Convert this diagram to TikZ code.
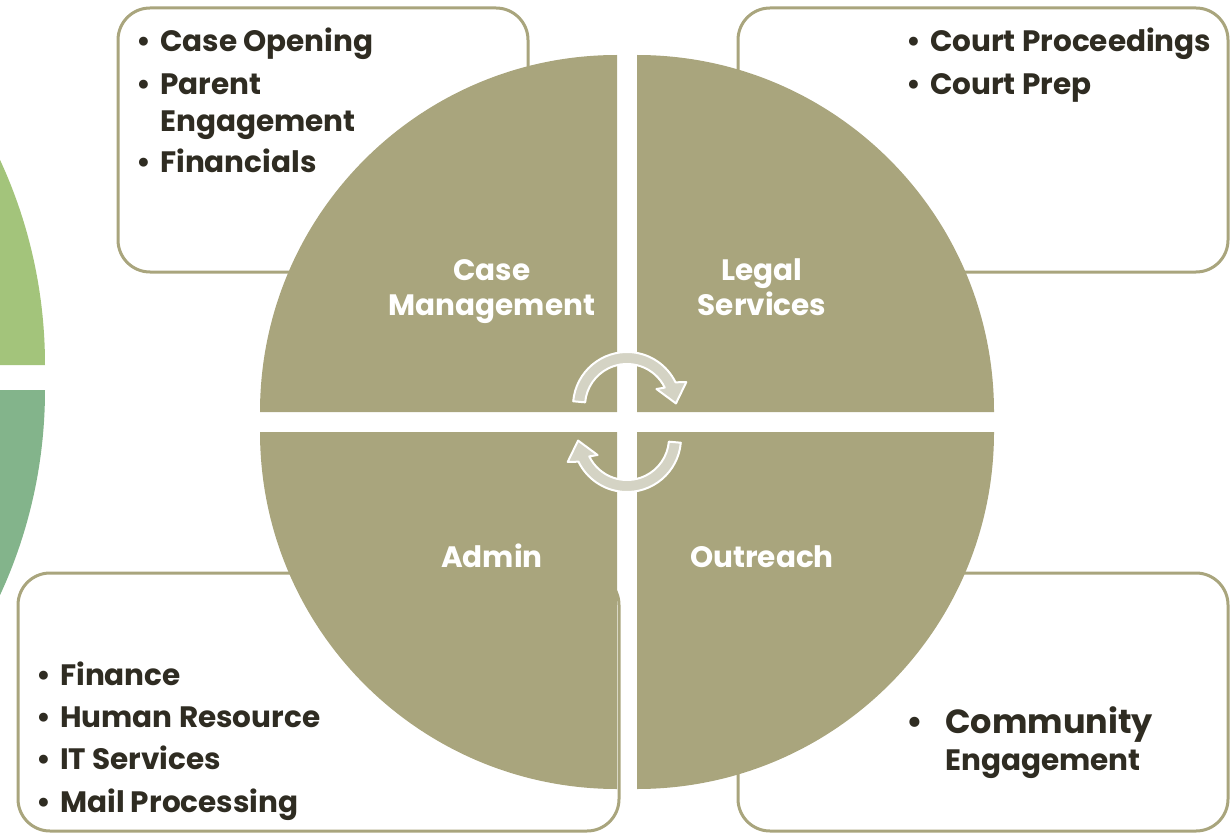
\documentclass[tikz,border=0pt]{standalone}
\usepackage{fontspec}
\setmainfont{Poppins}

\definecolor{quadfill}{HTML}{A9A57D}
\definecolor{boxline}{HTML}{A9A57D}
\definecolor{inkdark}{HTML}{2F2C22}
\definecolor{greenlight}{HTML}{A3C47B}
\definecolor{greendark}{HTML}{83B48B}
\definecolor{arrowfill}{HTML}{D4D3C4}

\newcommand{\bul}{\llap{\textbullet\hspace{9pt}}}

\tikzset{
  quad/.style={fill=quadfill},
  listbox/.style={draw=boxline, line width=3pt, rounded corners=32pt},
  listtext/.style={font=\fontsize{29.5}{36}\selectfont\bfseries, text=inkdark, anchor=base west, inner sep=0pt},
  quadlabel/.style={font=\fontsize{29.5}{36}\selectfont\bfseries, text=white, anchor=base, inner sep=0pt},
  turnfill/.style={fill=arrowfill, draw=white, line width=2pt, line join=round},
  pics/turnarrow/.style={code={
    \filldraw[turnfill] (-175:54) arc[start angle=-175, end angle=-26, radius=54]
      -- (-22:64) -- (-3:49) -- (-30:34) -- (-26:42)
      arc[start angle=-26, end angle=-175, radius=42] -- cycle;
  }}
}

\begin{document}
\begin{tikzpicture}[x=1pt,y=-1pt]
\useasboundingbox (0,0) rectangle (1230,834);
\clip (0,0) rectangle (1230,834);

% neighbouring wheel, cut by the page edge
\fill[greenlight] (-444,365) -- ++(489,0) arc[start angle=0, end angle=-180, radius=489] -- cycle;
\fill[greendark] (-444,390) -- ++(489,0) arc[start angle=0, end angle=180, radius=489] -- cycle;

% boxes behind the wheel
\draw[listbox] (118,8) rectangle (528,272);
\draw[listbox] (738,8) rectangle (1228,272);
\draw[listbox] (18,573) rectangle (619,831);
\draw[listbox] (738,573) rectangle (1228,831);

% the four quarters
\fill[quad] (617,412) -- ++(-357,0) arc[start angle=180, end angle=270, radius=357] -- cycle;
\fill[quad] (637,412) -- ++(0,-357) arc[start angle=270, end angle=360, radius=357] -- cycle;
\fill[quad] (637,432) -- ++(357,0) arc[start angle=0, end angle=90, radius=357] -- cycle;
\fill[quad] (617,432) -- ++(0,357) arc[start angle=90, end angle=180, radius=357] -- cycle;

\node[quadlabel] (case) at (492,280) {Case};
\node[quadlabel] (mgmt) at (492,315) {Management};
\node[quadlabel] (legal) at (762,280) {Legal};
\node[quadlabel] (services) at (762,315) {Services};
\node[quadlabel] (admin) at (492,567) {Admin};
\node[quadlabel] (outreach) at (762,567) {Outreach};

% turning arrows in the middle
\pic at (627,406) {turnarrow};
\pic[rotate=180] at (627,438) {turnarrow};

% case management list
\node[listtext] (caseopen) at (160,52) {\bul Case Opening};
\node[listtext] (parent) at (160,95) {\bul Parent};
\node[listtext] (parenteng) at (160,132) {Engagement};
\node[listtext] (financials) at (160,173) {\bul Financials};

% legal services list
\node[listtext] (courtproc) at (930,52) {\bul Court Proceedings};
\node[listtext] (courtprep) at (930,95) {\bul Court Prep};

% admin list
\node[listtext] (finance) at (60,685) {\bul Finance};
\node[listtext] (humanres) at (60,727) {\bul Human Resource};
\node[listtext] (itserv) at (60,769) {\bul IT Services};
\node[listtext] (mail) at (60,812) {\bul Mail Processing};

% outreach list
\node[listtext, font=\fontsize{33.5}{40}\selectfont\bfseries] (community) at (945,733) {\llap{\textbullet\hspace{22pt}}Community};
\node[listtext] (communityeng) at (945,770) {Engagement};
\end{tikzpicture}
\end{document}
